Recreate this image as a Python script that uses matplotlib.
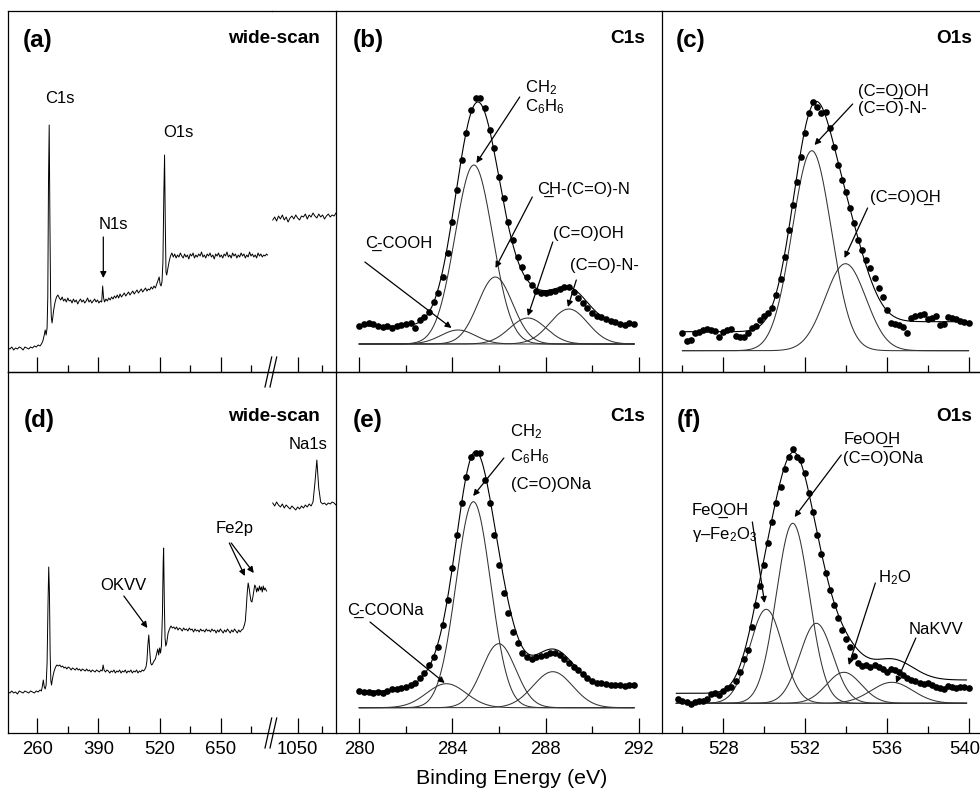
import numpy as np
import matplotlib
matplotlib.use('Agg')
import matplotlib.pyplot as plt
import matplotlib.transforms as mtransforms
from matplotlib.lines import Line2D

plt.rcParams['font.family'] = ['Liberation Sans', 'DejaVu Sans']
plt.rcParams['mathtext.fontset'] = 'custom'
plt.rcParams['mathtext.rm'] = 'Liberation Sans'
plt.rcParams['mathtext.it'] = 'Liberation Sans:italic'
plt.rcParams['mathtext.bf'] = 'Liberation Sans:bold'

W, H = 980, 790

# ---------------- wide scans, intensity in a.u. ----------------
wide_a_E = [198, 202, 206, 210, 214, 218, 222, 226, 230, 234,
            238, 242, 246, 250, 254, 258, 262, 266, 269, 272,
            275, 277, 279, 281, 282.5, 284, 285.5, 287, 288.5, 290,
            291.5, 293, 295, 298, 301, 304, 307, 310, 313, 316,
            319, 322, 325, 328, 331, 334, 337, 340, 343, 346,
            349, 352, 355, 358, 361, 364, 367, 370, 373, 376,
            379, 382, 385, 388, 391, 394, 397, 399, 401, 403,
            406, 409, 412, 415, 418, 421, 424, 427, 430, 433,
            436, 439, 442, 445, 448, 451, 454, 457, 460, 463,
            466, 469, 472, 475, 478, 481, 484, 487, 490, 493,
            496, 499, 502, 505, 508, 511, 514, 517, 519, 521,
            523, 525, 527, 529, 530.5, 532, 533.5, 535, 537, 540,
            543, 546, 549, 552, 555, 558, 561, 564, 567, 570,
            573, 576, 579, 582, 585, 588, 591, 594, 597, 600,
            603, 606, 609, 612, 615, 618, 621, 624, 627, 630,
            633, 636, 639, 642, 645, 648, 651, 654, 657, 660,
            663, 666, 669, 672, 675, 678, 681, 684, 687, 690,
            693, 696, 699, 702, 705, 708, 711, 714, 717, 720,
            723, 726, 729, 732, 735, 738, 741, 744, 747, 749]
wide_a_I = [24, 23, 25, 22, 24, 23, 25, 24, 22, 25,
            24, 23, 25, 24, 26, 25, 27, 26, 28, 31,
            37, 42, 37, 44, 75, 190, 247, 150, 75, 55,
            49, 54, 62, 70, 75, 77, 74, 72, 75, 71,
            73, 70, 74, 71, 72, 69, 73, 70, 72, 68,
            71, 73, 70, 72, 69, 71, 74, 70, 72, 69,
            71, 73, 70, 72, 69, 71, 70, 86, 74, 70,
            73, 71, 74, 72, 75, 73, 76, 74, 77, 74,
            78, 75, 77, 79, 76, 78, 80, 77, 79, 81,
            78, 80, 82, 79, 81, 83, 80, 82, 84, 81,
            83, 82, 85, 83, 86, 84, 88, 92, 95, 88,
            86, 90, 110, 180, 217, 150, 100, 97, 102, 110,
            116, 119, 115, 118, 114, 117, 115, 119, 116, 114,
            118, 115, 117, 113, 118, 116, 119, 114, 117, 115,
            118, 116, 120, 115, 117, 114, 118, 116, 119, 115,
            117, 113, 118, 116, 119, 115, 117, 114, 118, 116,
            120, 115, 117, 114, 119, 116, 118, 114, 117, 115,
            119, 116, 118, 114, 117, 115, 120, 116, 118, 115,
            117, 114, 119, 116, 118, 115, 117, 116, 118, 117]

wide_d_E = [198, 202, 206, 210, 214, 218, 222, 226, 230, 234,
            238, 242, 246, 250, 254, 258, 262, 266, 269, 271,
            273, 275, 277, 279, 281, 283, 284.5, 286, 287.5, 289,
            290.5, 292, 294, 296, 299, 302, 305, 308, 311, 314,
            317, 320, 323, 326, 329, 332, 335, 338, 341, 344,
            347, 350, 353, 356, 359, 362, 365, 368, 371, 374,
            377, 380, 383, 386, 389, 392, 395, 398, 400, 402,
            405, 408, 411, 414, 417, 420, 423, 426, 429, 432,
            435, 438, 441, 444, 447, 450, 453, 456, 459, 462,
            465, 468, 471, 474, 477, 480, 483, 486, 489, 491,
            493, 495, 497, 499, 501, 503, 505, 508, 511, 514,
            516, 518, 520, 522, 524, 526, 527.5, 528.5, 530, 531.5,
            533, 535, 538, 541, 544, 547, 550, 553, 556, 559,
            562, 565, 568, 571, 574, 577, 580, 583, 586, 589,
            592, 595, 598, 601, 604, 607, 610, 613, 616, 619,
            622, 625, 628, 631, 634, 637, 640, 643, 646, 649,
            652, 655, 658, 661, 664, 667, 670, 673, 676, 679,
            682, 685, 688, 691, 694, 697, 700, 702, 704, 706,
            708, 710, 712, 714, 716, 718, 720, 722, 724, 726,
            728, 730, 732, 734, 736, 738, 740, 742, 744, 747]
wide_d_I = [41, 40, 42, 40, 41, 39, 42, 41, 40, 42,
            41, 40, 42, 41, 40, 42, 41, 43, 42, 47,
            53, 46, 44, 48, 70, 130, 166, 140, 80, 52,
            48, 53, 58, 62, 66, 68, 67, 68, 66, 67,
            65, 66, 64, 66, 65, 63, 65, 64, 63, 65,
            63, 64, 62, 64, 63, 62, 64, 62, 63, 61,
            63, 62, 61, 63, 62, 61, 63, 62, 68, 63,
            61, 63, 62, 60, 62, 61, 63, 60, 62, 61,
            63, 60, 62, 61, 63, 60, 62, 61, 63, 60,
            62, 61, 63, 60, 62, 61, 63, 62, 64, 66,
            72, 88, 98, 82, 70, 68, 69, 72, 74, 80,
            84, 78, 85, 80, 88, 120, 170, 185, 130, 95,
            87, 90, 100, 104, 107, 105, 106, 104, 106, 103,
            105, 104, 102, 105, 103, 104, 102, 105, 103, 104,
            101, 104, 102, 103, 101, 104, 102, 103, 101, 104,
            102, 103, 101, 104, 102, 103, 100, 103, 101, 104,
            102, 100, 103, 101, 104, 102, 100, 103, 101, 104,
            102, 100, 103, 101, 103, 104, 108, 112, 125, 140,
            150, 145, 138, 132, 131, 136, 142, 148, 146, 141,
            145, 142, 147, 143, 146, 141, 147, 143, 145, 142]

# high binding energy part after the axis break
wide_hi_E = [1024, 1026, 1028, 1030, 1032, 1034, 1036, 1038,
             1040, 1042, 1044, 1046, 1048, 1050, 1052, 1054,
             1056, 1058, 1060, 1062, 1064, 1066, 1068, 1070,
             1072, 1074, 1076, 1078, 1080, 1082, 1084, 1086, 1088, 1090]
wide_a_hi_I = [152, 155, 151, 156, 153, 157, 152, 155,
               150, 154, 156, 153, 157, 154, 152, 156,
               155, 158, 153, 157, 155, 159, 156, 154,
               158, 155, 157, 153, 156, 158, 155, 157, 156, 159]
wide_d_hi_I = [230, 227, 231, 228, 226, 229, 225, 228,
               226, 224, 227, 225, 223, 226, 224, 227,
               225, 228, 226, 229, 227, 231, 250, 273,
               245, 231, 229, 230, 228, 230, 229, 231, 230, 228]

# ---------------- C1s high resolution (b), (e) ----------------
c1s_E = [280.0, 280.2, 280.4, 280.6, 280.8, 281.0, 281.2, 281.4, 281.6, 281.8,
         282.0, 282.2, 282.4, 282.6, 282.8, 283.0, 283.2, 283.4, 283.6, 283.8,
         284.0, 284.2, 284.4, 284.6, 284.8, 285.0, 285.2, 285.4, 285.6, 285.8,
         286.0, 286.2, 286.4, 286.6, 286.8, 287.0, 287.2, 287.4, 287.6, 287.8,
         288.0, 288.2, 288.4, 288.6, 288.8, 289.0, 289.2, 289.4, 289.6, 289.8,
         290.0, 290.2, 290.4, 290.6, 290.8, 291.0, 291.2, 291.4, 291.6, 291.8]
c1s_b_I = [46, 48, 49, 48, 46, 45, 46, 44, 46, 47,
           48, 49, 44, 52, 55, 60, 70, 79, 95, 119,
           150, 182, 212, 239, 262, 274, 274, 264, 242, 224,
           195, 174, 150, 132, 115, 105, 95, 87, 81, 79,
           79, 80, 81, 83, 85, 85, 80, 74, 69, 64,
           59, 56, 55, 53, 51, 50, 48, 47, 49, 48]
c1s_e_I = [42, 41, 41, 40, 41, 40, 42, 44, 44, 45,
           46, 48, 50, 55, 60, 68, 76, 86, 108, 133,
           165, 198, 230, 256, 276, 280, 280, 253, 230, 198,
           168, 140, 120, 101, 90, 80, 76, 74, 76, 77,
           78, 80, 80, 78, 74, 70, 66, 63, 59, 55,
           52, 50, 50, 49, 48, 48, 48, 47, 48, 48]

# fitted components: centre (eV), FWHM (eV), height (a.u.)
b_cen = [284.24, 284.92, 285.84, 287.24, 289.0]
b_fwhm = [1.75, 1.9, 1.75, 1.85, 1.9]
b_amp = [14, 179, 67, 26, 35]

e_cen = [283.74, 284.9, 285.99, 288.31]
e_fwhm = [2.0, 1.75, 1.7, 2.0]
e_amp = [24, 206, 64, 36]

# ---------------- O1s high resolution (c), (f) ----------------
o1s_c_E = [526.0, 526.2, 526.4, 526.6, 526.8, 527.0, 527.2, 527.4, 527.6, 527.8,
           528.0, 528.2, 528.4, 528.6, 528.8, 529.0, 529.2, 529.4, 529.6, 529.8,
           530.0, 530.2, 530.4, 530.6, 530.8, 531.0, 531.2, 531.4, 531.6, 531.8,
           532.0, 532.2, 532.4, 532.6, 532.8, 533.0, 533.2, 533.4, 533.6, 533.8,
           534.0, 534.2, 534.4, 534.6, 534.8, 535.0, 535.2, 535.4, 535.6, 535.8,
           536.0, 536.2, 536.4, 536.6, 536.8, 537.0, 537.2, 537.4, 537.6, 537.8,
           538.0, 538.2, 538.4, 538.6, 538.8, 539.0, 539.2, 539.4, 539.6, 539.8,
           540.0]
o1s_c_I = [39, 31, 32, 39, 40, 42, 43, 42, 41, 35,
           40, 42, 43, 36, 35, 35, 39, 44, 46, 52,
           56, 59, 64, 77, 93, 115, 142, 167, 190, 215,
           239, 259, 270, 265, 259, 260, 244, 225, 207, 192,
           180, 164, 149, 132, 122, 112, 104, 94, 84, 75,
           62, 49, 48, 47, 45, 39, 54, 56, 57, 58,
           53, 54, 56, 47, 48, 55, 54, 53, 51, 50,
           49]

o1s_f_E = [525.8, 526.0, 526.2, 526.4, 526.6, 526.8, 527.0, 527.2, 527.4, 527.6,
           527.8, 528.0, 528.2, 528.4, 528.6, 528.8, 529.0, 529.2, 529.4, 529.6,
           529.8, 530.0, 530.2, 530.4, 530.6, 530.8, 531.0, 531.2, 531.4, 531.6,
           531.8, 532.0, 532.2, 532.4, 532.6, 532.8, 533.0, 533.2, 533.4, 533.6,
           533.8, 534.0, 534.2, 534.4, 534.6, 534.8, 535.0, 535.2, 535.4, 535.6,
           535.8, 536.0, 536.2, 536.4, 536.6, 536.8, 537.0, 537.2, 537.4, 537.6,
           537.8, 538.0, 538.2, 538.4, 538.6, 538.8, 539.0, 539.2, 539.4, 539.6,
           539.8, 540.0]
o1s_f_I = [34, 32, 31, 29, 31, 32, 32, 34, 39, 40,
           38, 42, 45, 46, 52, 61, 74, 83, 106, 128,
           147, 168, 190, 211, 230, 246, 264, 276, 284, 276,
           273, 260, 240, 221, 198, 179, 160, 143, 128, 115,
           103, 94, 86, 77, 70, 67, 68, 66, 68, 66,
           64, 61, 64, 63, 61, 58, 55, 53, 52, 50,
           49, 50, 48, 46, 45, 44, 47, 46, 45, 46,
           46, 45]

c_cen = [532.33, 533.98]
c_fwhm = [2.25, 2.35]
c_amp = [200, 87]

f_cen = [530.1, 531.4, 532.55, 533.9, 536.25]
f_fwhm = [1.9, 1.9, 1.9, 2.0, 2.4]
f_amp = [94, 180, 80, 31, 21]


fig = plt.figure(figsize=(9.8, 7.9), dpi=100)


def box(x0, y0, x1, y1):
    return fig.add_axes([x0 / W, 1 - y1 / H, (x1 - x0) / W, (y1 - y0) / H])


def style(ax, xlim, major, minor, labels, left=True):
    ax.set_xlim(*xlim)
    ax.set_ylim(0, 361)
    ax.set_yticks([])
    ax.set_xticks(major)
    ax.set_xticks(minor, minor=True)
    ax.tick_params(axis='x', which='major', direction='in', length=10.8, width=0.9,
                   labelsize=13.3, pad=6, labelbottom=labels)
    ax.tick_params(axis='x', which='minor', direction='in', length=4.8, width=0.9)
    ax.spines['right'].set_visible(False)
    ax.spines['left'].set_visible(left)
    for s in ax.spines.values():
        s.set_linewidth(0.9)
    ax.patch.set_alpha(0)


def gauss(x, c, fwhm, a):
    s = fwhm / 2.3548
    return a * np.exp(-0.5 * ((x - c) / s) ** 2)


def fit_panel(ax, E, I, cen, fwhm, amp, base, bg_lo, bg_hi, x0, x1):
    xs = np.linspace(x0, x1, 600)
    comps = [gauss(xs, c, w, a) for c, w, a in zip(cen, fwhm, amp)]
    total = np.sum(comps, axis=0)
    bg = bg_lo + (bg_hi - bg_lo) * np.cumsum(total) / total.sum()
    for comp in comps:
        ax.plot(xs, base + comp, color='#333333', lw=0.75)
    ax.plot(xs, base + bg + total, color='black', lw=0.8)
    ax.plot(E, I, 'o', color='black', ms=4.8, mew=0)


def arrow(ax, x0, y0, x1, y1):
    ax.annotate('', xy=(x1, y1), xytext=(x0, y0),
                arrowprops=dict(arrowstyle='-|>', color='black', lw=0.9,
                                mutation_scale=9, shrinkA=0, shrinkB=0))


def label(ax, x, y, s, ha='left'):
    ax.text(x, y, s, fontsize=12, ha=ha, va='center')


rows = [(11, 372), (372, 733)]
wide_lo = (198, 758)
wide_hi = (1022.9, 1090)

# ---- wide scans ----
for r, (Ilo, Ihi) in enumerate([(wide_a_I, wide_a_hi_I), (wide_d_I, wide_d_hi_I)]):
    y0, y1 = rows[r]
    E_lo = wide_a_E if r == 0 else wide_d_E
    ax_l = box(8, y0, 271.7, y1)
    ax_l.plot(E_lo, Ilo, color='black', lw=0.7)
    style(ax_l, wide_lo, [260, 390, 520, 650], [325, 455, 585, 715], r == 1)
    ax_r = box(271.7, y0, 336, y1)
    ax_r.plot(wide_hi_E, Ihi, color='black', lw=0.7)
    style(ax_r, wide_hi, [1050], [1075], r == 1, left=False)
    if r == 0:
        label(ax_l, 308.4, 274, 'C1s', ha='center')
        label(ax_l, 559, 240, 'O1s', ha='center')
        label(ax_l, 421, 148, 'N1s', ha='center')
        arrow(ax_l, 400.4, 135, 400.4, 94)
    else:
        label(ax_l, 680, 204, 'Fe2p', ha='center')
        arrow(ax_l, 668, 190, 701, 157)
        arrow(ax_l, 672, 190, 720, 160)
        label(ax_l, 443, 148, 'OKVV', ha='center')
        arrow(ax_l, 444, 137, 494, 105)
        label(ax_r, 1060.8, 288, 'Na1s', ha='center')
    # axis break marks
    for dx in (0, 5):
        fig.add_artist(Line2D([(265 + dx) / W, (271.7 + dx) / W],
                              [1 - (y1 + 15) / H, 1 - (y1 - 15) / H],
                              color='black', lw=0.9))

# ---- (b) C1s ----
ax = box(336, 11, 662, 372)
fit_panel(ax, c1s_E, c1s_b_I, b_cen, b_fwhm, b_amp, 28, 18, 20, 280.0, 291.8)
style(ax, (279, 293), [280, 284, 288, 292], [282, 286, 290], False)
label(ax, 287.1, 284, 'CH$_\\mathregular{2}$')
label(ax, 287.1, 265, 'C$_\\mathregular{6}$H$_\\mathregular{6}$')
arrow(ax, 286.89, 275, 285.03, 209)
label(ax, 287.63, 183, 'C\u0332H-(C=O)-N')
arrow(ax, 287.43, 175, 285.85, 104)
label(ax, 288.31, 139, '(C=O)OH')
arrow(ax, 288.31, 130, 287.24, 56)
label(ax, 289.06, 107, '(C=O)-N-')
arrow(ax, 289.32, 92, 288.96, 65)
label(ax, 280.24, 129, 'C\u0332-COOH')
arrow(ax, 280.24, 110, 283.96, 44)

# ---- (c) O1s ----
ax = box(662, 11, 989, 372)
fit_panel(ax, o1s_c_E, o1s_c_I, c_cen, c_fwhm, c_amp, 21.3, 19, 29, 526.0, 540.0)
style(ax, (525, 541), [528, 532, 536, 540], [526, 530, 534, 538], False)
label(ax, 534.58, 281, '(C=O\u0332)OH')
label(ax, 534.58, 264, '(C=O)-N-')
arrow(ax, 534.33, 268, 532.46, 227)
label(ax, 535.18, 175, '(C=O)O\u0332H')
arrow(ax, 535.06, 164, 533.93, 114)

# ---- (e) C1s ----
ax = box(336, 372, 662, 733)
fit_panel(ax, c1s_E, c1s_e_I, e_cen, e_fwhm, e_amp, 25.3, 16.7, 22.7, 280.0, 291.8)
style(ax, (279, 293), [280, 284, 288, 292], [282, 286, 290], True)
label(ax, 286.46, 301, 'CH$_\\mathregular{2}$')
label(ax, 286.49, 276, 'C$_\\mathregular{6}$H$_\\mathregular{6}$')
label(ax, 286.53, 248, '(C=O)ONa')
arrow(ax, 286.21, 275, 284.89, 237)
label(ax, 279.46, 123, 'C\u0332-COONa')
arrow(ax, 280.46, 111, 283.67, 50)

# ---- (f) O1s ----
ax = box(662, 372, 989, 733)
fit_panel(ax, o1s_f_E, o1s_f_I, f_cen, f_fwhm, f_amp, 29.7, 10, 23.3, 525.7, 539.9)
style(ax, (525, 541), [528, 532, 536, 540], [526, 530, 534, 538], True)
# last tick label sits against the right border, pull it in a little
fig.canvas.draw()
last = ax.get_xticklabels()[-1]
last.set_transform(last.get_transform() +
                   mtransforms.ScaledTranslation(-4 / 100, 0, fig.dpi_scale_trans))
label(ax, 533.88, 294, 'FeOO\u0332H')
label(ax, 533.88, 274, '(C=O)ONa')
arrow(ax, 533.77, 278, 531.49, 216)
label(ax, 526.45, 223, 'FeO\u0332OH')
label(ax, 526.45, 198, '\u03b3\u2013Fe$_\\mathregular{2}$O$_\\mathregular{3}$')
arrow(ax, 529.42, 211, 530.02, 130)
label(ax, 535.55, 155, 'H$_\\mathregular{2}$O')
arrow(ax, 535.44, 150, 534.14, 68)
label(ax, 537.07, 103, 'NaKVV')
arrow(ax, 537.42, 95, 536.45, 50)

# ---- panel letters and headers ----
letters = ['(a)', '(b)', '(c)', '(d)', '(e)', '(f)']
letter_xy = [(23, 47), (352.7, 47), (676, 47), (24, 427), (352.7, 427), (676.7, 427)]
for s, (x, y) in zip(letters, letter_xy):
    fig.text(x / W, 1 - y / H, s, fontsize=17.5, fontweight='bold', ha='left', va='baseline')

headers = ['wide-scan', 'C1s', 'O1s', 'wide-scan', 'C1s', 'O1s']
header_xy = [(320, 43), (645, 43), (972, 43), (320, 421.5), (645, 421.5), (972, 421.5)]
for s, (x, y) in zip(headers, header_xy):
    fig.text(x / W, 1 - y / H, s, fontsize=13.7, fontweight='bold', ha='right', va='baseline')

fig.text(512 / W, 1 - 778 / H, 'Binding Energy (eV)', fontsize=15.4, ha='center', va='center')

fig.savefig('out.png', dpi=100)
